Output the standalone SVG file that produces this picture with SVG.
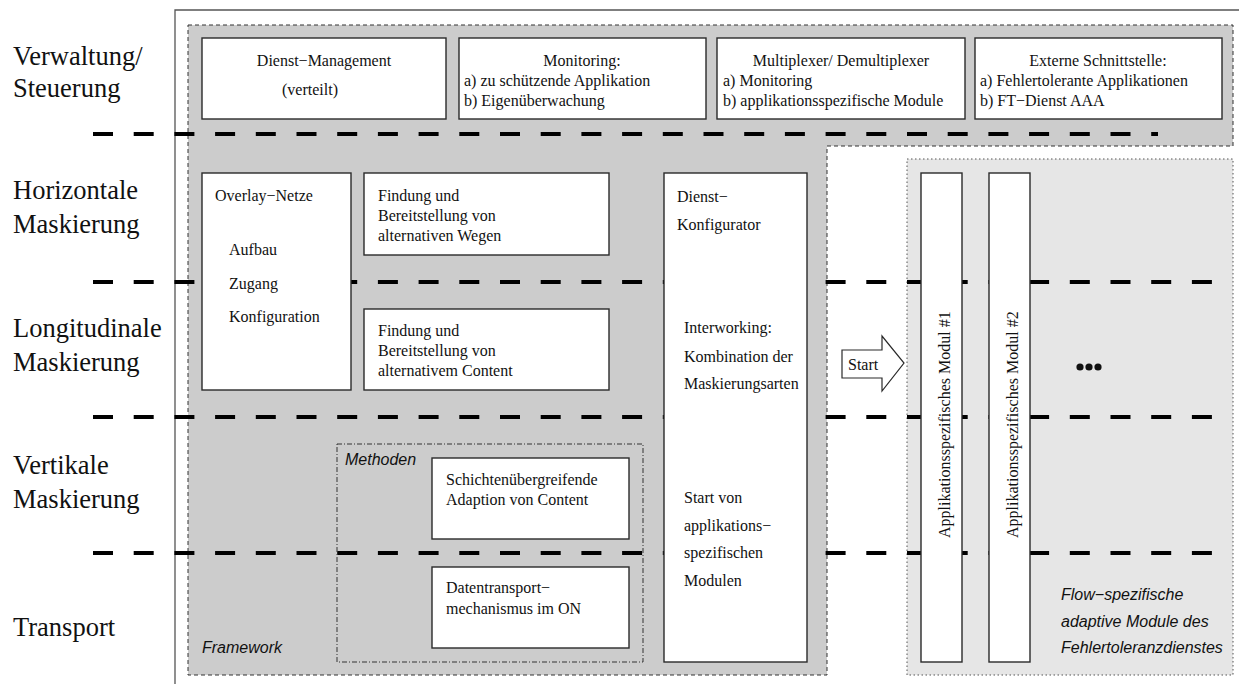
<svg xmlns="http://www.w3.org/2000/svg" width="1239" height="684" viewBox="0 0 1239 684">
  <style>
    .serif { font-family: "Liberation Serif", "Times New Roman", serif; fill: #111; }
    .layer { font-size: 26.5px; }
    .box-t { font-size: 16px; }
    .ital { font-family: "Liberation Sans", Arial, sans-serif; font-style: italic; font-size: 16px; fill: #111; }
    .box { fill: #ffffff; stroke: #2a2a2a; stroke-width: 1.4; }
    .sep { fill: none; stroke: #000; stroke-width: 4; stroke-dasharray: 20 20.7; }
  </style>

  <!-- outer frame -->
  <path d="M175,684 V10 H1239" fill="none" stroke="#555" stroke-width="1.3"/>

  <!-- framework area -->
  <g id="framework">
    <path d="M188,25 H1233 V146 H827 V675 H188 Z" fill="#cccccc" stroke="#333" stroke-width="1" stroke-dasharray="4 3"/>
    <text class="ital" x="202" y="653">Framework</text>
  </g>

  <!-- flow-specific module area -->
  <g id="modules-area">
    <rect x="907" y="159" width="326" height="516" fill="#e6e6e6" stroke="#555" stroke-width="1" stroke-dasharray="1.5 2.5"/>
    <text class="ital" x="1061" y="600">Flow−spezifische</text>
    <text class="ital" x="1061" y="627">adaptive Module des</text>
    <text class="ital" x="1061" y="653">Fehlertoleranzdienstes</text>
  </g>

  <!-- layer separators -->
  <g id="separators">
    <line class="sep" x1="93" y1="134" x2="1158" y2="134"/>
    <line class="sep" x1="93" y1="282" x2="1213" y2="282"/>
    <line class="sep" x1="93" y1="417" x2="1213" y2="417"/>
    <line class="sep" x1="93" y1="553" x2="1213" y2="553"/>
  </g>

  <!-- layer labels -->
  <g id="layer-labels" class="serif layer">
    <text x="13" y="65">Verwaltung/</text>
    <text x="13" y="97">Steuerung</text>
    <text x="13" y="199">Horizontale</text>
    <text x="13" y="233">Maskierung</text>
    <text x="13" y="337">Longitudinale</text>
    <text x="13" y="371">Maskierung</text>
    <text x="13" y="474">Vertikale</text>
    <text x="13" y="508">Maskierung</text>
    <text x="13" y="636">Transport</text>
  </g>

  <!-- management row -->
  <g id="dienst-management">
    <rect class="box" x="202" y="38" width="244" height="81"/>
    <text class="serif box-t" x="324" y="66" text-anchor="middle">Dienst−Management</text>
    <text class="serif box-t" x="310" y="95" text-anchor="middle">(verteilt)</text>
  </g>
  <g id="monitoring">
    <rect class="box" x="459" y="38" width="247" height="81"/>
    <text class="serif box-t" x="582" y="66" text-anchor="middle">Monitoring:</text>
    <text class="serif box-t" x="464" y="86">a) zu schützende Applikation</text>
    <text class="serif box-t" x="464" y="106">b) Eigenüberwachung</text>
  </g>
  <g id="multiplexer">
    <rect class="box" x="717" y="38" width="248" height="81"/>
    <text class="serif box-t" x="841" y="66" text-anchor="middle">Multiplexer/ Demultiplexer</text>
    <text class="serif box-t" x="723" y="86">a) Monitoring</text>
    <text class="serif box-t" x="723" y="106">b) applikationsspezifische Module</text>
  </g>
  <g id="externe-schnittstelle">
    <rect class="box" x="975" y="38" width="247" height="81"/>
    <text class="serif box-t" x="1098" y="66" text-anchor="middle">Externe Schnittstelle:</text>
    <text class="serif box-t" x="980" y="86">a) Fehlertolerante Applikationen</text>
    <text class="serif box-t" x="980" y="106">b) FT−Dienst AAA</text>
  </g>

  <!-- masking boxes -->
  <g id="overlay-netze">
    <rect class="box" x="202" y="173" width="149" height="217"/>
    <text class="serif box-t" x="215" y="201">Overlay−Netze</text>
    <text class="serif box-t" x="229" y="255">Aufbau</text>
    <text class="serif box-t" x="229" y="289">Zugang</text>
    <text class="serif box-t" x="229" y="322">Konfiguration</text>
  </g>
  <g id="wege">
    <rect class="box" x="364" y="173" width="245" height="82"/>
    <text class="serif box-t" x="378" y="201">Findung und</text>
    <text class="serif box-t" x="378" y="221">Bereitstellung von</text>
    <text class="serif box-t" x="378" y="241">alternativen Wegen</text>
  </g>
  <g id="content">
    <rect class="box" x="364" y="309" width="245" height="81"/>
    <text class="serif box-t" x="378" y="336">Findung und</text>
    <text class="serif box-t" x="378" y="356">Bereitstellung von</text>
    <text class="serif box-t" x="378" y="376">alternativem Content</text>
  </g>

  <!-- methods -->
  <g id="methoden">
    <rect x="337" y="444" width="306" height="218" fill="none" stroke="#333" stroke-width="1" stroke-dasharray="5 2 1 2"/>
    <text class="ital" x="345" y="465">Methoden</text>
  </g>
  <g id="schichten">
    <rect class="box" x="432" y="458" width="197" height="81"/>
    <text class="serif box-t" x="446" y="485">Schichtenübergreifende</text>
    <text class="serif box-t" x="446" y="505">Adaption von Content</text>
  </g>
  <g id="datentransport">
    <rect class="box" x="432" y="567" width="197" height="81"/>
    <text class="serif box-t" x="446" y="593">Datentransport−</text>
    <text class="serif box-t" x="446" y="614">mechanismus im ON</text>
  </g>

  <!-- service configurator -->
  <g id="dienst-konfigurator">
    <rect class="box" x="664" y="173" width="143" height="489"/>
    <text class="serif box-t" x="677" y="202">Dienst−</text>
    <text class="serif box-t" x="677" y="230">Konfigurator</text>
    <text class="serif box-t" x="684" y="333">Interworking:</text>
    <text class="serif box-t" x="684" y="362">Kombination der</text>
    <text class="serif box-t" x="684" y="389">Maskierungsarten</text>
    <text class="serif box-t" x="684" y="503">Start von</text>
    <text class="serif box-t" x="684" y="531">applikations−</text>
    <text class="serif box-t" x="684" y="558">spezifischen</text>
    <text class="serif box-t" x="684" y="586">Modulen</text>
  </g>

  <!-- start arrow -->
  <g id="start-arrow">
    <polygon points="842,350 882,350 882,336 904,363 882,391 882,378 842,378" fill="#fff" stroke="#2a2a2a" stroke-width="1.2"/>
    <text class="serif box-t" x="848" y="370">Start</text>
  </g>

  <!-- application-specific modules -->
  <g id="modul-1">
    <rect class="box" x="921" y="173" width="41" height="489"/>
    <text class="serif box-t" transform="translate(950,538) rotate(-90)">Applikationsspezifisches Modul #1</text>
  </g>
  <g id="modul-2">
    <rect class="box" x="989" y="173" width="41" height="489"/>
    <text class="serif box-t" transform="translate(1018,538) rotate(-90)">Applikationsspezifisches Modul #2</text>
  </g>
  <g id="weitere">
    <circle cx="1080" cy="367" r="3.6" fill="#111"/>
    <circle cx="1089" cy="367" r="3.6" fill="#111"/>
    <circle cx="1098" cy="367" r="3.6" fill="#111"/>
  </g>
</svg>
